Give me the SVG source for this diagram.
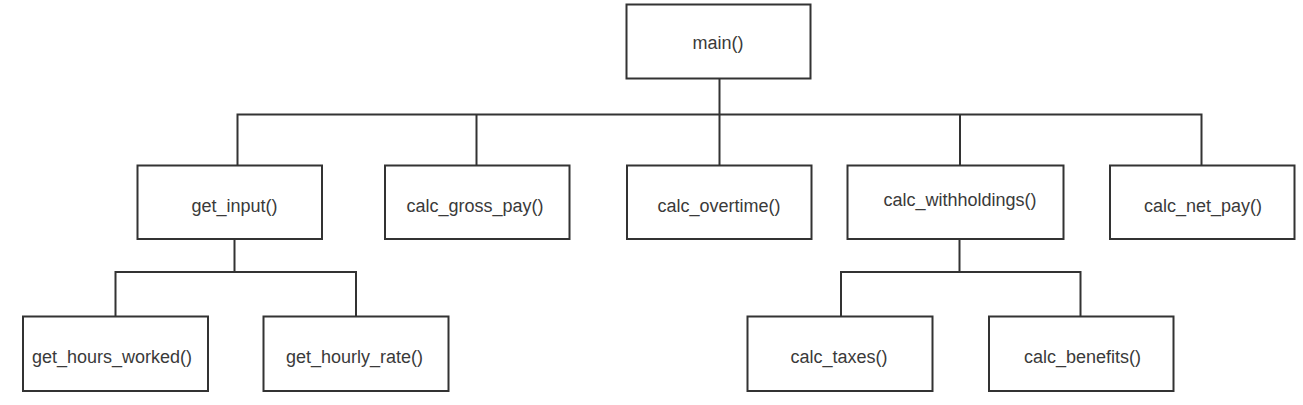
<svg xmlns="http://www.w3.org/2000/svg" width="1303" height="405" viewBox="0 0 1303 405">
<style>
.box{fill:#ffffff;stroke:#333333;stroke-width:2}
.lbl{font-family:"Liberation Sans",Arial,sans-serif;font-size:18px;fill:#3a3a3a;text-anchor:middle}
.con{fill:none;stroke:#333333;stroke-width:2}
</style>
<rect x="0" y="0" width="1303" height="405" fill="#ffffff"/>
<g id="connectors">
<path class="con" d="M719.5 78.5 V165.5"/>
<path class="con" d="M237.5 165.5 V114.5 H1201.5 V165.5"/>
<path class="con" d="M476.5 114.5 V165.5"/>
<path class="con" d="M960 114.5 V165.5"/>
<path class="con" d="M234.5 239 V272"/>
<path class="con" d="M115.5 316.5 V272 H356 V316.5"/>
<path class="con" d="M959.5 239 V272"/>
<path class="con" d="M841 316.5 V272 H1080.5 V316.5"/>
</g>
<g id="main">
<rect class="box" x="626.5" y="4.5" width="184" height="74"/>
<text class="lbl" x="718" y="48.5">main()</text>
</g>
<g id="get_input">
<rect class="box" x="137.5" y="165.5" width="184.5" height="73.5"/>
<text class="lbl" x="234.5" y="211.5">get_input()</text>
</g>
<g id="calc_gross_pay">
<rect class="box" x="385" y="165.5" width="184.5" height="73.5"/>
<text class="lbl" x="475" y="211.5">calc_gross_pay()</text>
</g>
<g id="calc_overtime">
<rect class="box" x="627" y="165.5" width="184.5" height="73.5"/>
<text class="lbl" x="719" y="211.5">calc_overtime()</text>
</g>
<g id="calc_withholdings">
<rect class="box" x="847.5" y="165.5" width="216" height="73.5"/>
<text class="lbl" x="960" y="205.5">calc_withholdings()</text>
</g>
<g id="calc_net_pay">
<rect class="box" x="1110" y="165.5" width="184.5" height="73.5"/>
<text class="lbl" x="1203" y="211.5">calc_net_pay()</text>
</g>
<g id="get_hours_worked">
<rect class="box" x="23" y="316.5" width="185" height="74.5"/>
<text class="lbl" x="112" y="362.5">get_hours_worked()</text>
</g>
<g id="get_hourly_rate">
<rect class="box" x="263.5" y="316.5" width="185" height="74.5"/>
<text class="lbl" x="354.5" y="362.5">get_hourly_rate()</text>
</g>
<g id="calc_taxes">
<rect class="box" x="747.5" y="316.5" width="185" height="74.5"/>
<text class="lbl" x="839" y="362.5">calc_taxes()</text>
</g>
<g id="calc_benefits">
<rect class="box" x="989" y="316.5" width="184.5" height="74.5"/>
<text class="lbl" x="1082.5" y="362.5">calc_benefits()</text>
</g>
</svg>
